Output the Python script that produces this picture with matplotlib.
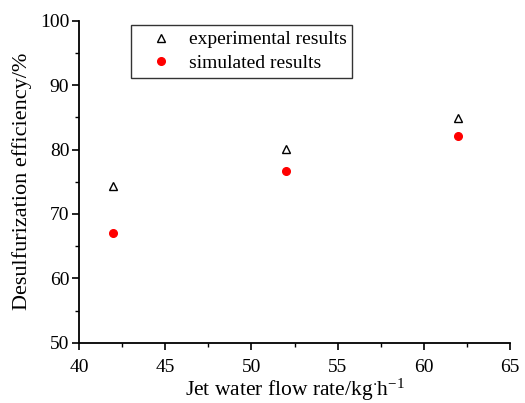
import numpy as np
import matplotlib
matplotlib.use('Agg')
import matplotlib.pyplot as plt
from matplotlib.ticker import MultipleLocator

plt.rcParams['font.family'] = ['Liberation Serif', 'DejaVu Serif']
plt.rcParams['mathtext.fontset'] = 'custom'
plt.rcParams['mathtext.rm'] = 'Liberation Serif'
plt.rcParams['mathtext.default'] = 'regular'

flow_rate = [42, 52, 62]
experimental = [74.3, 80.1, 84.9]
simulated = [67.1, 76.6, 82.1]

fig = plt.figure(figsize=(5.25, 4.03), dpi=100)
ax = fig.add_axes([79/525, 1 - 342.7/403, (510 - 79)/525, (342.7 - 20.7)/403])

ax.plot(flow_rate, experimental, linestyle='none', marker='^', markersize=6,
        markerfacecolor='white', markeredgecolor='black', markeredgewidth=1.0,
        label='experimental results')
ax.plot(flow_rate, simulated, linestyle='none', marker='o', markersize=5.5,
        markerfacecolor='red', markeredgecolor='red',
        label='simulated results')

ax.set_xlim(40, 65)
ax.set_ylim(50, 100)
ax.xaxis.set_major_locator(MultipleLocator(5))
ax.xaxis.set_minor_locator(MultipleLocator(2.5))
ax.yaxis.set_major_locator(MultipleLocator(10))
ax.yaxis.set_minor_locator(MultipleLocator(5))

for side in ['top', 'right']:
    ax.spines[side].set_visible(False)
for side in ['left', 'bottom']:
    ax.spines[side].set_linewidth(1.3)
ax.tick_params(which='major', direction='out', length=5, width=1.2, labelsize=14)
ax.tick_params(which='minor', direction='out', length=3, width=1.0)
ax.tick_params(axis='x', which='major', pad=7)
ax.tick_params(axis='y', which='major', pad=2)

ax.set_xlabel('Jet water flow rate/kg$^{\\cdot}$h$^{-1}$', fontsize=15.5, labelpad=0)
ax.set_ylabel('Desulfurization efficiency/%', fontsize=16, labelpad=6)

leg = ax.legend(loc='upper left', bbox_to_anchor=(0.121, 0.987), fontsize=14,
                frameon=True, fancybox=False, edgecolor='black',
                borderaxespad=0, handletextpad=0.15, borderpad=0.3,
                labelspacing=0.3, handlelength=2.5)
leg.get_frame().set_linewidth(1.0)

plt.savefig('out.png', dpi=100)
